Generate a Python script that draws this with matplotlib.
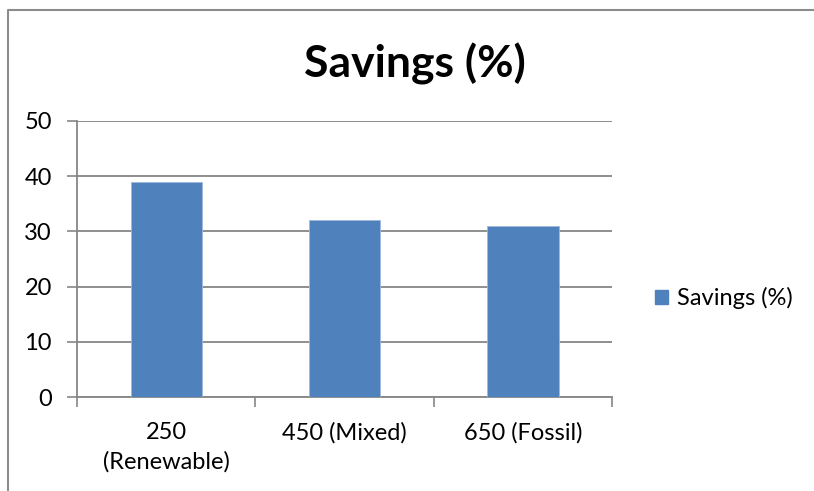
import matplotlib
matplotlib.use("Agg")
import matplotlib.pyplot as plt
from matplotlib.lines import Line2D
from matplotlib.patches import Patch
import numpy as np

categories = ["250\n(Renewable)", "450 (Mixed)", "650 (Fossil)"]
savings = [39, 32, 31]
series_name = "Savings (%)"
title = "Savings (%)"
yticks = [0, 10, 20, 30, 40, 50]

plt.rcParams['font.family'] = ['Lato', 'DejaVu Sans']
fig = plt.figure(figsize=(8.14, 4.91), dpi=100)
W, H = 814, 491

# outer border (only top and left visible)
fig.add_artist(Line2D([8 / W, 8 / W, 1.0], [0.0, 1 - 9.5 / H, 1 - 9.5 / H], transform=fig.transFigure,
                      color="#8c8c8c", linewidth=1.5))

ax = fig.add_axes([77 / W, 1 - 397 / H, (612 - 77) / W, (397 - 121) / H])
x = np.arange(len(categories))
ax.bar(x, savings, width=0.40, color="#4F81BD", edgecolor="#9db8db", linewidth=0.6,
       label=series_name, zorder=3)
ax.set_xlim(-0.5, len(categories) - 0.5)
ax.set_ylim(0, 50)
ax.set_yticks(yticks)
ax.set_yticklabels([str(t) for t in yticks], fontsize=17)
ax.tick_params(axis='y', length=7, width=1.2, color="#868686", pad=11)
ax.set_xticks(np.arange(len(categories) + 1) - 0.5)
ax.set_xticklabels([])
ax.tick_params(axis='x', length=7, width=1.2, color="#868686")
for i, c in enumerate(categories):
    ax.text(i, -4.6, c, ha='center', va='top', fontsize=17, linespacing=1.45)
ax.grid(axis='y', color="#868686", linewidth=1.3, zorder=0)
for s in ['top', 'right']:
    ax.spines[s].set_visible(False)
for s in ['left', 'bottom']:
    ax.spines[s].set_color("#868686")
    ax.spines[s].set_linewidth(1.3)

fig.text(415 / W, 1 - 64 / H, title, ha='center', va='center', fontsize=32, fontweight='bold')

handles = [Patch(facecolor="#4F81BD", edgecolor="#4F81BD")]
fig.legend(handles, [series_name], loc='center left', bbox_to_anchor=(655 / W, 1 - 298 / H),
           frameon=False, fontsize=17, handlelength=0.55, handleheight=0.55, handletextpad=0.4,
           borderaxespad=0, borderpad=0)

fig.savefig("out.png", dpi=100)
